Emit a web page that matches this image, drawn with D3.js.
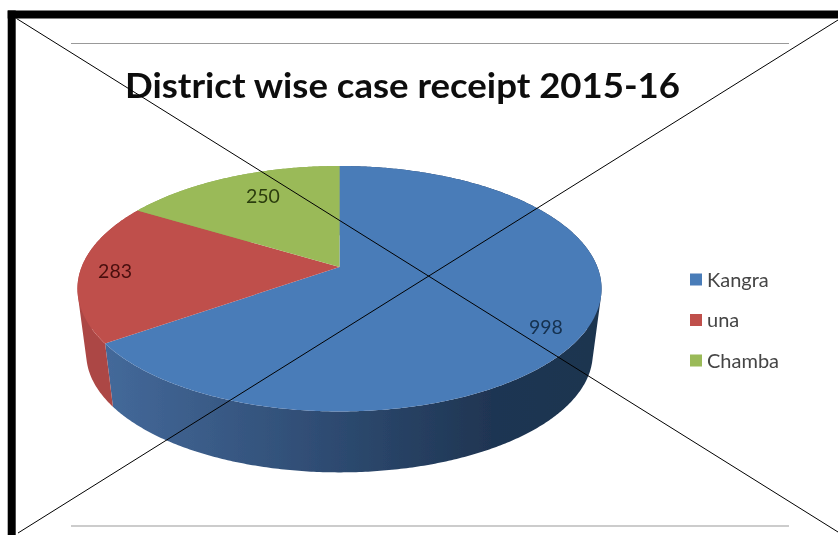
<!DOCTYPE html>
<html>
<head>
<meta charset="utf-8">
<script src="https://cdnjs.cloudflare.com/ajax/libs/d3/7.8.5/d3.min.js"></script>
<style>
  html, body { margin: 0; padding: 0; background: #fff; }
  svg { display: block; }
  text { font-family: Lato, "Open Sans", sans-serif; }
</style>
</head>
<body>
<div id="chart"></div>
<script>
'use strict';
const chartTitle = 'District wise case receipt 2015-16'
const categories = ['Kangra', 'una', 'Chamba']
const receipts = [998, 283, 250]

const width = 838
const height = 535
const color = d3.scaleOrdinal(categories, ['#4a7bb8', '#bf4f4c', '#9aba59'])
const labelColor = d3.scaleOrdinal(categories, ['#14304f', '#4a0f0d', '#2c3d0c'])

const svg = d3.select('#chart').append('svg')
    .attr('width', width)
    .attr('height', height)

const defs = svg.append('defs')
defs.append('filter').attr('id', 'soft')
    .attr('x', '-5%').attr('y', '-5%').attr('width', '110%').attr('height', '110%')
    .append('feGaussianBlur').attr('stdDeviation', 0.65)
const sideGrad = defs.append('linearGradient').attr('id', 'blueSide')
    .attr('gradientUnits', 'userSpaceOnUse')
    .attr('x1', 105).attr('x2', 590).attr('y1', 0).attr('y2', 0)
sideGrad.append('stop').attr('offset', '0%').attr('stop-color', '#44699a')
sideGrad.append('stop').attr('offset', '48%').attr('stop-color', '#2d4a70')
sideGrad.append('stop').attr('offset', '80%').attr('stop-color', '#1f3552')
sideGrad.append('stop').attr('offset', '100%').attr('stop-color', '#1e3450')

// Pie is tilted with perspective, so the apex sits above the middle of the ellipse
const apex = { x: 339.5, y: 267 }
const tilt = { a: 257.9, b: 118.9, k: -0.177 }
const vanishY = 2230 // point the rim edges run toward
const rimScale = 0.9665

function projectTop(angle) {
    const ux = Math.sin(angle), uy = -Math.cos(angle)
    const w = 1 + tilt.k * uy
    return [apex.x + tilt.a * ux / w, apex.y + tilt.b * uy / w]
}
function projectBottom(angle) {
    const p = projectTop(angle)
    return [apex.x + (p[0] - apex.x) * rimScale, vanishY - (vanishY - p[1]) * rimScale]
}
function arcAngles(a0, a1) {
    const n = Math.ceil((a1 - a0) / 0.01)
    return d3.range(n + 1).map(i => a0 + (a1 - a0) * i / n)
}

const pie = d3.pie().sort(null)
const slices = pie(receipts)
const line = d3.line()

// Rim as a run of small quads, all wound one way, so the outline follows the
// straight edge between the top and bottom ellipses at the left and right
function rimPath(d) {
    const angles = arcAngles(d.startAngle, d.endAngle)
    return d3.pairs(angles).map(([a0, a1]) => {
        const quad = [projectTop(a0), projectTop(a1), projectBottom(a1), projectBottom(a0)]
        return line(d3.polygonArea(quad) < 0 ? quad.reverse() : quad) + 'Z'
    }).join('')
}

const pieG = svg.append('g').attr('filter', 'url(#soft)')

pieG.selectAll('path.rim')
    .data(slices).enter().append('path')
    .attr('class', 'rim')
    .attr('fill', (d, i) => i === 0 ? 'url(#blueSide)' : d3.color(color(categories[i])).darker(0.3))
    .attr('d', rimPath)

pieG.selectAll('path.face')
    .data(slices).enter().append('path')
    .attr('class', 'face')
    .attr('fill', (d, i) => color(categories[i]))
    .attr('d', d => line([[apex.x, apex.y]].concat(arcAngles(d.startAngle, d.endAngle).map(projectTop))) + 'Z')

// Data labels: angle on the pie and fraction of the way out from the apex
const labelAt = [
    { angle: 2.134, r: 0.857 },
    { angle: 4.674, r: 0.865 },
    { angle: 5.822, r: 0.773 }
]
const labelG = svg.append('g').attr('filter', 'url(#soft)')
labelG.selectAll('text.value')
    .data(slices).enter().append('text')
    .attr('class', 'value')
    .attr('x', (d, i) => apex.x + (projectTop(labelAt[i].angle)[0] - apex.x) * labelAt[i].r)
    .attr('y', (d, i) => apex.y + (projectTop(labelAt[i].angle)[1] - apex.y) * labelAt[i].r)
    .attr('dy', '0.35em')
    .attr('text-anchor', 'middle')
    .attr('font-size', 19.5)
    .attr('fill', (d, i) => labelColor(categories[i]))
    .text(d => d.data)

labelG.append('text')
    .attr('x', 125)
    .attr('y', 98)
    .attr('font-size', 34)
    .attr('font-weight', 700)
    .attr('fill', '#0a0a0a')
    .attr('textLength', 555)
    .attr('lengthAdjust', 'spacingAndGlyphs')
    .text(chartTitle)

// Legend
const legendY = d3.scalePoint().domain(categories).range([279.5, 360.5])
const legend = svg.append('g').attr('filter', 'url(#soft)')
legend.selectAll('rect')
    .data(categories).enter().append('rect')
    .attr('x', 690)
    .attr('y', d => legendY(d) - 6)
    .attr('width', 12)
    .attr('height', 12)
    .attr('fill', d => color(d))
legend.selectAll('text')
    .data(categories).enter().append('text')
    .attr('x', 707)
    .attr('y', d => legendY(d))
    .attr('dy', '0.35em')
    .attr('font-size', 20)
    .attr('fill', '#454545')
    .text(d => d)

// Grey rules of the chart box
svg.selectAll('line.rule')
    .data([43.5, 526]).enter().append('line')
    .attr('class', 'rule')
    .attr('x1', 71).attr('x2', 789)
    .attr('y1', d => d).attr('y2', d => d)
    .attr('stroke', '#999')
    .attr('stroke-width', 1)

// Thick page border, open at the right and bottom
svg.append('rect').attr('x', 7.7).attr('y', 10.5).attr('width', width - 7.7).attr('height', 8).attr('fill', '#000')
svg.append('rect').attr('x', 7.7).attr('y', 10.5).attr('width', 8).attr('height', height - 10.5).attr('fill', '#000')

// Crossed out
svg.append('line').attr('x1', 16.5).attr('y1', 18.5).attr('x2', 838).attr('y2', 532)
    .attr('stroke', '#000').attr('stroke-width', 1)
svg.append('line').attr('x1', 838).attr('y1', 20).attr('x2', 18).attr('y2', 533)
    .attr('stroke', '#000').attr('stroke-width', 1)
</script>
</body>
</html>
